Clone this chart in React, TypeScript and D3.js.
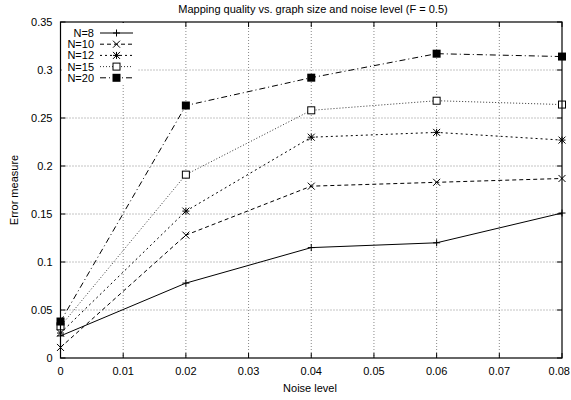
import React from "react";
import * as d3 from "d3";

const noise = [0, 0.02, 0.04, 0.06, 0.08];
const seriesNames = ["N=8", "N=10", "N=12", "N=15", "N=20"];
const n8 = [0.023, 0.078, 0.115, 0.12, 0.151];
const n10 = [0.011, 0.128, 0.179, 0.183, 0.187];
const n12 = [0.026, 0.153, 0.23, 0.235, 0.227];
const n15 = [0.033, 0.191, 0.258, 0.268, 0.264];
const n20 = [0.038, 0.263, 0.292, 0.317, 0.314];
const xTicks = [0, 0.01, 0.02, 0.03, 0.04, 0.05, 0.06, 0.07, 0.08];
const yTicks = [0, 0.05, 0.1, 0.15, 0.2, 0.25, 0.3, 0.35];

const W = 571, H = 400;
const L = 60.5, R = 562, T = 22, B = 358;
const FONT = "'Liberation Sans', Arial, sans-serif";
const FS = 11;

const styles = [
  { dash: "none", marker: "plus", color: "#000" },
  { dash: "4,3", marker: "x", color: "#000" },
  { dash: "2,3", marker: "star", color: "#000" },
  { dash: "1,2", marker: "box", color: "#333" },
  { dash: "6,3,1,3", marker: "fbox", color: "#000" },
];

function Marker({ kind, x, y }: { kind: string; x: number; y: number }) {
  const s = 3.5;
  if (kind === "plus")
    return <path d={`M${x - s},${y}H${x + s}M${x},${y - s}V${y + s}`} stroke="#000" strokeWidth={1} />;
  if (kind === "x")
    return <path d={`M${x - s},${y - s}L${x + s},${y + s}M${x - s},${y + s}L${x + s},${y - s}`} stroke="#000" strokeWidth={1} />;
  if (kind === "star")
    return (
      <path
        d={`M${x - s},${y - s}L${x + s},${y + s}M${x - s},${y + s}L${x + s},${y - s}M${x - s},${y}H${x + s}M${x},${y - s}V${y + s}`}
        stroke="#000"
        strokeWidth={1}
      />
    );
  if (kind === "box")
    return <rect x={x - 3.5} y={y - 3.5} width={7} height={7} fill="#fff" stroke="#000" strokeWidth={1} />;
  return <rect x={x - 4} y={y - 4} width={8} height={8} fill="#000" />;
}

export default function App() {
  const x = d3.scaleLinear().domain([0, 0.08]).range([L, R]);
  const y = d3.scaleLinear().domain([0, 0.35]).range([B, T]);
  const data = [n8, n10, n12, n15, n20];
  const line = d3
    .line<number>()
    .x((_, i) => x(noise[i]))
    .y((d) => y(d));

  return (
    <svg width={W} height={H} style={{ position: "absolute", left: 0, top: 0 }} fontFamily={FONT}>
      <rect width={W} height={H} fill="#fff" />
      {/* grid */}
      {xTicks.slice(1, -1).map((t) => (
        <line key={"gx" + t} x1={x(t)} x2={x(t)} y1={T} y2={B} stroke="#888" strokeWidth={1} strokeDasharray="1,2" />
      ))}
      {yTicks.slice(1, -1).map((t) => (
        <line key={"gy" + t} x1={L} x2={R} y1={y(t)} y2={y(t)} stroke="#888" strokeWidth={1} strokeDasharray="1,2" />
      ))}
      {/* ticks */}
      {xTicks.map((t, i) => (
        <g key={"tx" + t}>
          <line x1={x(t)} x2={x(t)} y1={B} y2={B - 5} stroke="#000" />
          <line x1={x(t)} x2={x(t)} y1={T} y2={T + 5} stroke="#000" />
          <text
            x={i === xTicks.length - 1 ? W - 1 : x(t)}
            y={B + 17}
            fontSize={FS}
            textAnchor={i === xTicks.length - 1 ? "end" : "middle"}
          >
            {t === 0 ? "0" : d3.format("~g")(t)}
          </text>
        </g>
      ))}
      {yTicks.map((t) => (
        <g key={"ty" + t}>
          <line x1={L} x2={L + 5} y1={y(t)} y2={y(t)} stroke="#000" />
          <line x1={R} x2={R - 5} y1={y(t)} y2={y(t)} stroke="#000" />
          <text x={L - 8} y={y(t) + 4} fontSize={FS} textAnchor="end">
            {t === 0 ? "0" : d3.format("~g")(t)}
          </text>
        </g>
      ))}
      {/* legend background */}
      <rect x={L + 1} y={T + 1} width={76} height={60} fill="#fff" />
      {/* series */}
      {data.map((vals, k) => (
        <g key={seriesNames[k]}>
          <path d={line(vals) || ""} fill="none" stroke={styles[k].color} strokeWidth={1} strokeDasharray={styles[k].dash} />
          {vals.map((v, i) => (
            <Marker key={i} kind={styles[k].marker} x={x(noise[i])} y={y(v)} />
          ))}
        </g>
      ))}
      {/* legend */}
      {seriesNames.map((name, k) => {
        const ly = 33 + k * 11.2;
        return (
          <g key={"lg" + name}>
            <text x={94} y={ly + 4} fontSize={FS} textAnchor="end">
              {name}
            </text>
            <line x1={100} x2={133} y1={ly} y2={ly} stroke={styles[k].color} strokeDasharray={styles[k].dash} />
            <Marker kind={styles[k].marker} x={116.5} y={ly} />
          </g>
        );
      })}
      {/* frame */}
      <rect x={L} y={T} width={R - L} height={B - T} fill="none" stroke="#000" strokeWidth={1.2} />
      {/* titles */}
      <text x={313} y={12.5} fontSize={FS} textAnchor="middle">
        Mapping quality vs. graph size and noise level (F = 0.5)
      </text>
      <text x={310} y={392} fontSize={FS} textAnchor="middle">
        Noise level
      </text>
      <text transform={`translate(18,190) rotate(-90)`} fontSize={FS} textAnchor="middle">
        Error measure
      </text>
    </svg>
  );
}
